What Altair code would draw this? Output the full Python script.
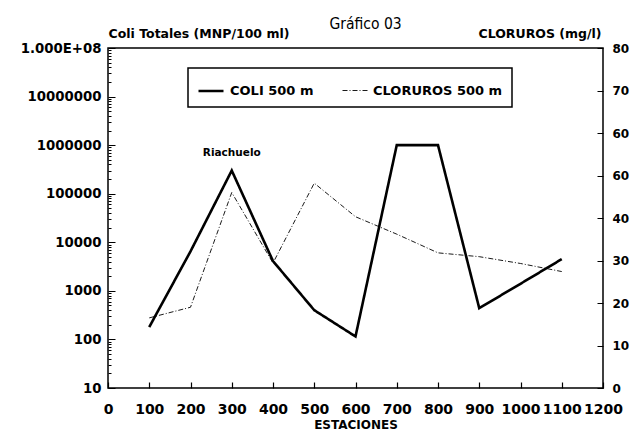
import altair as alt
import pandas as pd

# ---- data ----
estaciones = [100, 200, 300, 400, 500, 600, 700, 800, 900, 1000, 1100]
coli = [180, 6500, 300000, 4100, 400, 115, 1000000, 1000000, 440, 1400, 4500]
cloruros = [16.5, 19.0, 46.0, 29.4, 48.2, 40.3, 36.2, 31.8, 30.9, 29.3, 27.4]
series = ["COLI 500 m", "CLORUROS 500 m"]

x_ticks = [0, 100, 200, 300, 400, 500, 600, 700, 800, 900, 1000, 1100, 1200]
left_major = [10, 100, 1000, 10000, 100000, 1000000, 10000000, 100000000]
left_labels = ["10", "100", "1000", "10000", "100000", "1000000", "10000000", "1.000E+08"]
left_minor_mult = [2, 3, 4, 5, 6, 7, 8, 9]
right_ticks = [0, 10, 20, 30, 40, 50, 60, 70, 80]
right_labels = ["0", "10", "20", "30", "40", "60", "60", "70", "80"]

annot_text = ["Riachuelo"]
annot_x = [300]
annot_y = [700000]

# ---- tables ----
df_coli = pd.DataFrame({"estacion": estaciones, "valor": coli, "serie": series[0]})
df_clor = pd.DataFrame({"estacion": estaciones, "valor": cloruros, "serie": series[1]})
df_annot = pd.DataFrame({"estacion": annot_x, "valor": annot_y, "texto": annot_text})

left_values = sorted(left_major + [m * v for v in left_major[:-1] for m in left_minor_mult])


def label_expr(values, labels):
    parts = []
    for v, l in zip(values, labels):
        tol = max(abs(v) * 1e-6, 1e-6)
        parts.append(f"abs(datum.value - {v}) < {tol} ? '{l}'")
    return " : ".join(parts) + " : ''"


major_test = " || ".join(f"abs(datum.value - {v}) < {v * 1e-6}" for v in left_major)

FONT = "DejaVu Sans"

x_enc = alt.X(
    "estacion:Q",
    scale=alt.Scale(domain=[0, 1200], nice=False, zero=False),
    axis=alt.Axis(
        values=x_ticks, format="d", title="ESTACIONES", domain=False, grid=False,
        tickSize=alt.ExprRef("-6"), tickColor="black", tickWidth=1.2,
        labelPadding=20, labelFont=FONT, labelFontSize=14, labelFontWeight="bold",
        labelColor="black", labelFlush=False, labelOverlap=False,
        titleFont=FONT, titleFontSize=12, titleFontWeight="bold", titleColor="black",
        titlePadding=3,
    ),
)

left_scale = alt.Scale(type="log", domain=[10, 100000000], nice=False)
left_axis = alt.Axis(
    orient="left", values=left_values, labelExpr=label_expr(left_major, left_labels),
    domain=False, grid=False,
    tickSize={"condition": {"test": major_test, "value": -7}, "value": -3},
    tickColor="black", tickWidth=1, labelPadding=14,
    labelFont=FONT, labelFontSize=13.3, labelFontWeight="bold", labelColor="black",
    labelOverlap=False, labelFlush=False,
    title="Coli Totales (MNP/100 ml)", titleAngle=0, titleX=0, titleY=-11,
    titleAlign="left", titleBaseline="alphabetic", titleFont=FONT, titleFontSize=12.5,
    titleFontWeight="bold", titleColor="black",
)
right_scale = alt.Scale(domain=[0, 80], nice=False, zero=True)
right_axis = alt.Axis(
    orient="right", values=right_ticks, labelExpr=label_expr(right_ticks, right_labels),
    domain=False, grid=False, tickSize=alt.ExprRef("-6"), tickColor="black", tickWidth=1,
    labelPadding=15, labelFont=FONT, labelFontSize=12, labelFontWeight="bold",
    labelColor="black", labelOverlap=False, labelFlush=False,
    title="CLORUROS (mg/l)", titleAngle=0, titleX=-2, titleY=-11,
    titleAlign="right", titleBaseline="alphabetic", titleFont=FONT, titleFontSize=12.5,
    titleFontWeight="bold", titleColor="black",
)

legend_def = alt.Legend(
    orient="none", legendX=80, legendY=20, direction="horizontal", title=None,
    strokeColor="black", padding=9, labelFont=FONT, labelFontSize=13,
    labelFontWeight="bold", labelColor="black", symbolType="stroke", symbolSize=625,
    columnPadding=26, labelOffset=5, symbolStrokeColor="black",
)
dash_enc = alt.StrokeDash(
    "serie:N", scale=alt.Scale(domain=series, range=[[1, 0], [5, 2, 1, 2]]), legend=legend_def
)
width_enc = alt.StrokeWidth(
    "serie:N", scale=alt.Scale(domain=series, range=[2.6, 0.9]), legend=legend_def
)

coli_line = alt.Chart(df_coli).mark_line(color="black", strokeJoin="miter").encode(
    x=x_enc,
    y=alt.Y("valor:Q", scale=left_scale, axis=left_axis),
    strokeDash=dash_enc,
    strokeWidth=width_enc,
)
annot = alt.Chart(df_annot).mark_text(
    font=FONT, fontSize=10.5, fontWeight="bold", color="black"
).encode(
    x=x_enc,
    y=alt.Y("valor:Q", scale=left_scale, axis=left_axis),
    text="texto:N",
)
clor_line = alt.Chart(df_clor).mark_line(color="black").encode(
    x=x_enc,
    y=alt.Y("valor:Q", scale=right_scale, axis=right_axis),
    strokeDash=dash_enc,
    strokeWidth=width_enc,
)

chart = (
    alt.layer(alt.layer(coli_line, annot), clor_line)
    .resolve_scale(y="independent")
    .properties(
        width=495, height=340, autosize="none",
        padding={"left": 100, "top": 40, "right": 30, "bottom": 42},
        title=alt.Title(
            "Gráfico 03",
            font="DejaVu Sans Condensed, Liberation Sans Narrow, Liberation Sans",
            fontSize=15.5, fontWeight="normal",
            color="black", anchor="middle", dx=10, offset=-5,
        ),
        background="white",
    )
    .configure_view(stroke="black", strokeWidth=1.5)
    .configure_legend(strokeWidth=1.5)
)

chart.save("out.html", embed_options={"renderer": "svg", "actions": False})
